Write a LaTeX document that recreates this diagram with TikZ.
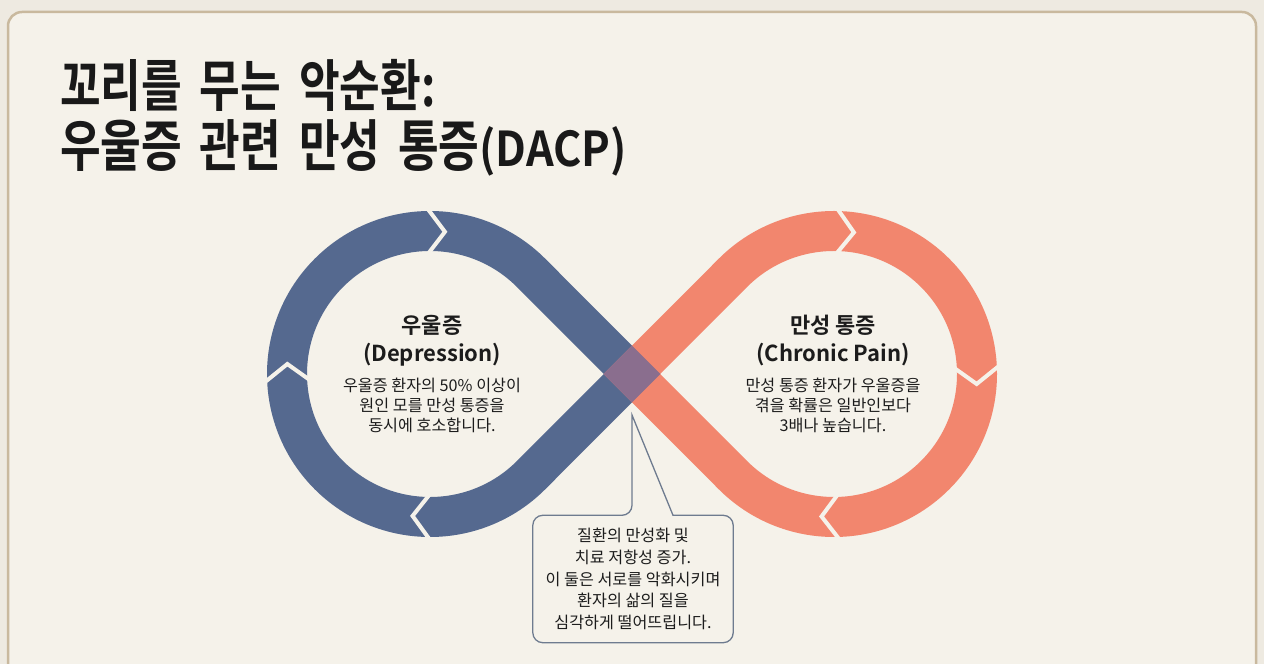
\documentclass[tikz,border=0pt]{standalone}
\usepackage{fontspec}
\usepackage{graphicx}
\usetikzlibrary{calc}
\newfontfamily\kr{Noto Sans CJK KR}
\newfontfamily\krb{Noto Sans CJK KR Bold}
\definecolor{pagebg}{HTML}{EEEAE1}
\definecolor{panelbg}{HTML}{F5F2EA}
\definecolor{rim}{HTML}{C9B99E}
\definecolor{deprblue}{HTML}{55698F}
\definecolor{painred}{HTML}{F2866E}
\definecolor{mixpurple}{HTML}{8A6E8E}
\definecolor{notegray}{HTML}{6E7B8F}
\definecolor{ink}{HTML}{1C1C1C}
\newcommand{\wide}{\spaceskip=0.4em\relax}
\tikzset{
    band/.style = {line width=40pt, line cap=butt},
    notch/.style = {draw=panelbg, line width=4pt, line join=miter},
    titleline/.style = {anchor=base west, font=\krb\fontsize{56}{56}\selectfont, text=ink!90!black, inner sep=0pt},
    heading/.style = {font=\krb\fontsize{22}{28}\selectfont, align=center, text=ink},
    body/.style = {font=\kr\fontsize{16.2}{20}\selectfont, align=center, text=ink},
    callout/.style = {draw=notegray, line width=1.3pt},
}
\begin{document}
\begin{tikzpicture}[x=1pt, y=1pt]
        \clip (0,0) rectangle (1264,664);
        \fill[pagebg] (0,0) rectangle (1264,664);
        \draw[rim, fill=panelbg, line width=2.5pt, rounded corners=14pt] (8,-30) rectangle (1256,652);
        \node[titleline] (title1) at (60,557) {\scalebox{0.79}[1]{\wide 꼬리를 무는 악순환:}};
        \node[titleline] (title2) at (60,497) {\scalebox{0.79}[1]{\wide 우울증 관련 만성 통증}\scalebox{0.9}[1]{\fontsize{48}{48}\selectfont(DACP)}};
        \coordinate (cross) at (632,290);
        \coordinate (lc) at (430,290);
        \coordinate (rc) at (834,290);
        \draw[band, deprblue] ($(cross)+(14.14,-14.14)$) -- ($(lc)+(45:143)$) arc[start angle=45, end angle=315, radius=143] -- ($(cross)+(14.14,14.14)$);
        \draw[band, painred] ($(cross)+(-14.14,-14.14)$) -- ($(rc)+(135:143)$) arc[start angle=135, end angle=-135, radius=143] -- ($(cross)+(-14.14,14.14)$);
        \fill[mixpurple] ($(cross)+(-28.3,0)$) -- ($(cross)+(0,28.3)$) -- ($(cross)+(28.3,0)$) -- ($(cross)+(0,-28.3)$) -- cycle;
        \foreach \a/\t in {91/84, 183/176, 270/263}
            \draw[notch] ($(lc)+(\a:166)$) -- ($(lc)+(\t:143)$) -- ($(lc)+(\a:120)$);
        \foreach \a/\t in {89/82, 3/-4, 272/265}
            \draw[notch] ($(rc)+(\a:166)$) -- ($(rc)+(\t:143)$) -- ($(rc)+(\a:120)$);
        \node[heading] (deprhead) at (432,323) {우울증\\(Depression)};
        \node[heading] (painhead) at (833,323) {만성 통증\\(Chronic Pain)};
        \node[body] (deprbody) at (432,259) {우울증 환자의 50\% 이상이\\원인 모를 만성 통증을\\동시에 호소합니다.};
        \node[body] (painbody) at (833,259) {만성 통증 환자가 우울증을\\겪을 확률은 일반인보다\\3배나 높습니다.};
        \coordinate (apex) at (632,249);
        \node[body, font=\kr\fontsize{16.2}{21.75}\selectfont, minimum width=200pt, minimum height=127pt, inner sep=0pt] (note) at (633,85) {질환의 만성화 및\\치료 저항성 증가.\\이 둘은 서로를 악화시키며\\환자의 삶의 질을\\심각하게 떨어뜨립니다.};
        \draw[callout] ([xshift=-1pt]note.north) -- (apex) -- ([xshift=40pt]note.north) [rounded corners=10pt] -- (note.north east) -- (note.south east) -- (note.south west) -- (note.north west) -- cycle;
\end{tikzpicture}
\end{document}
